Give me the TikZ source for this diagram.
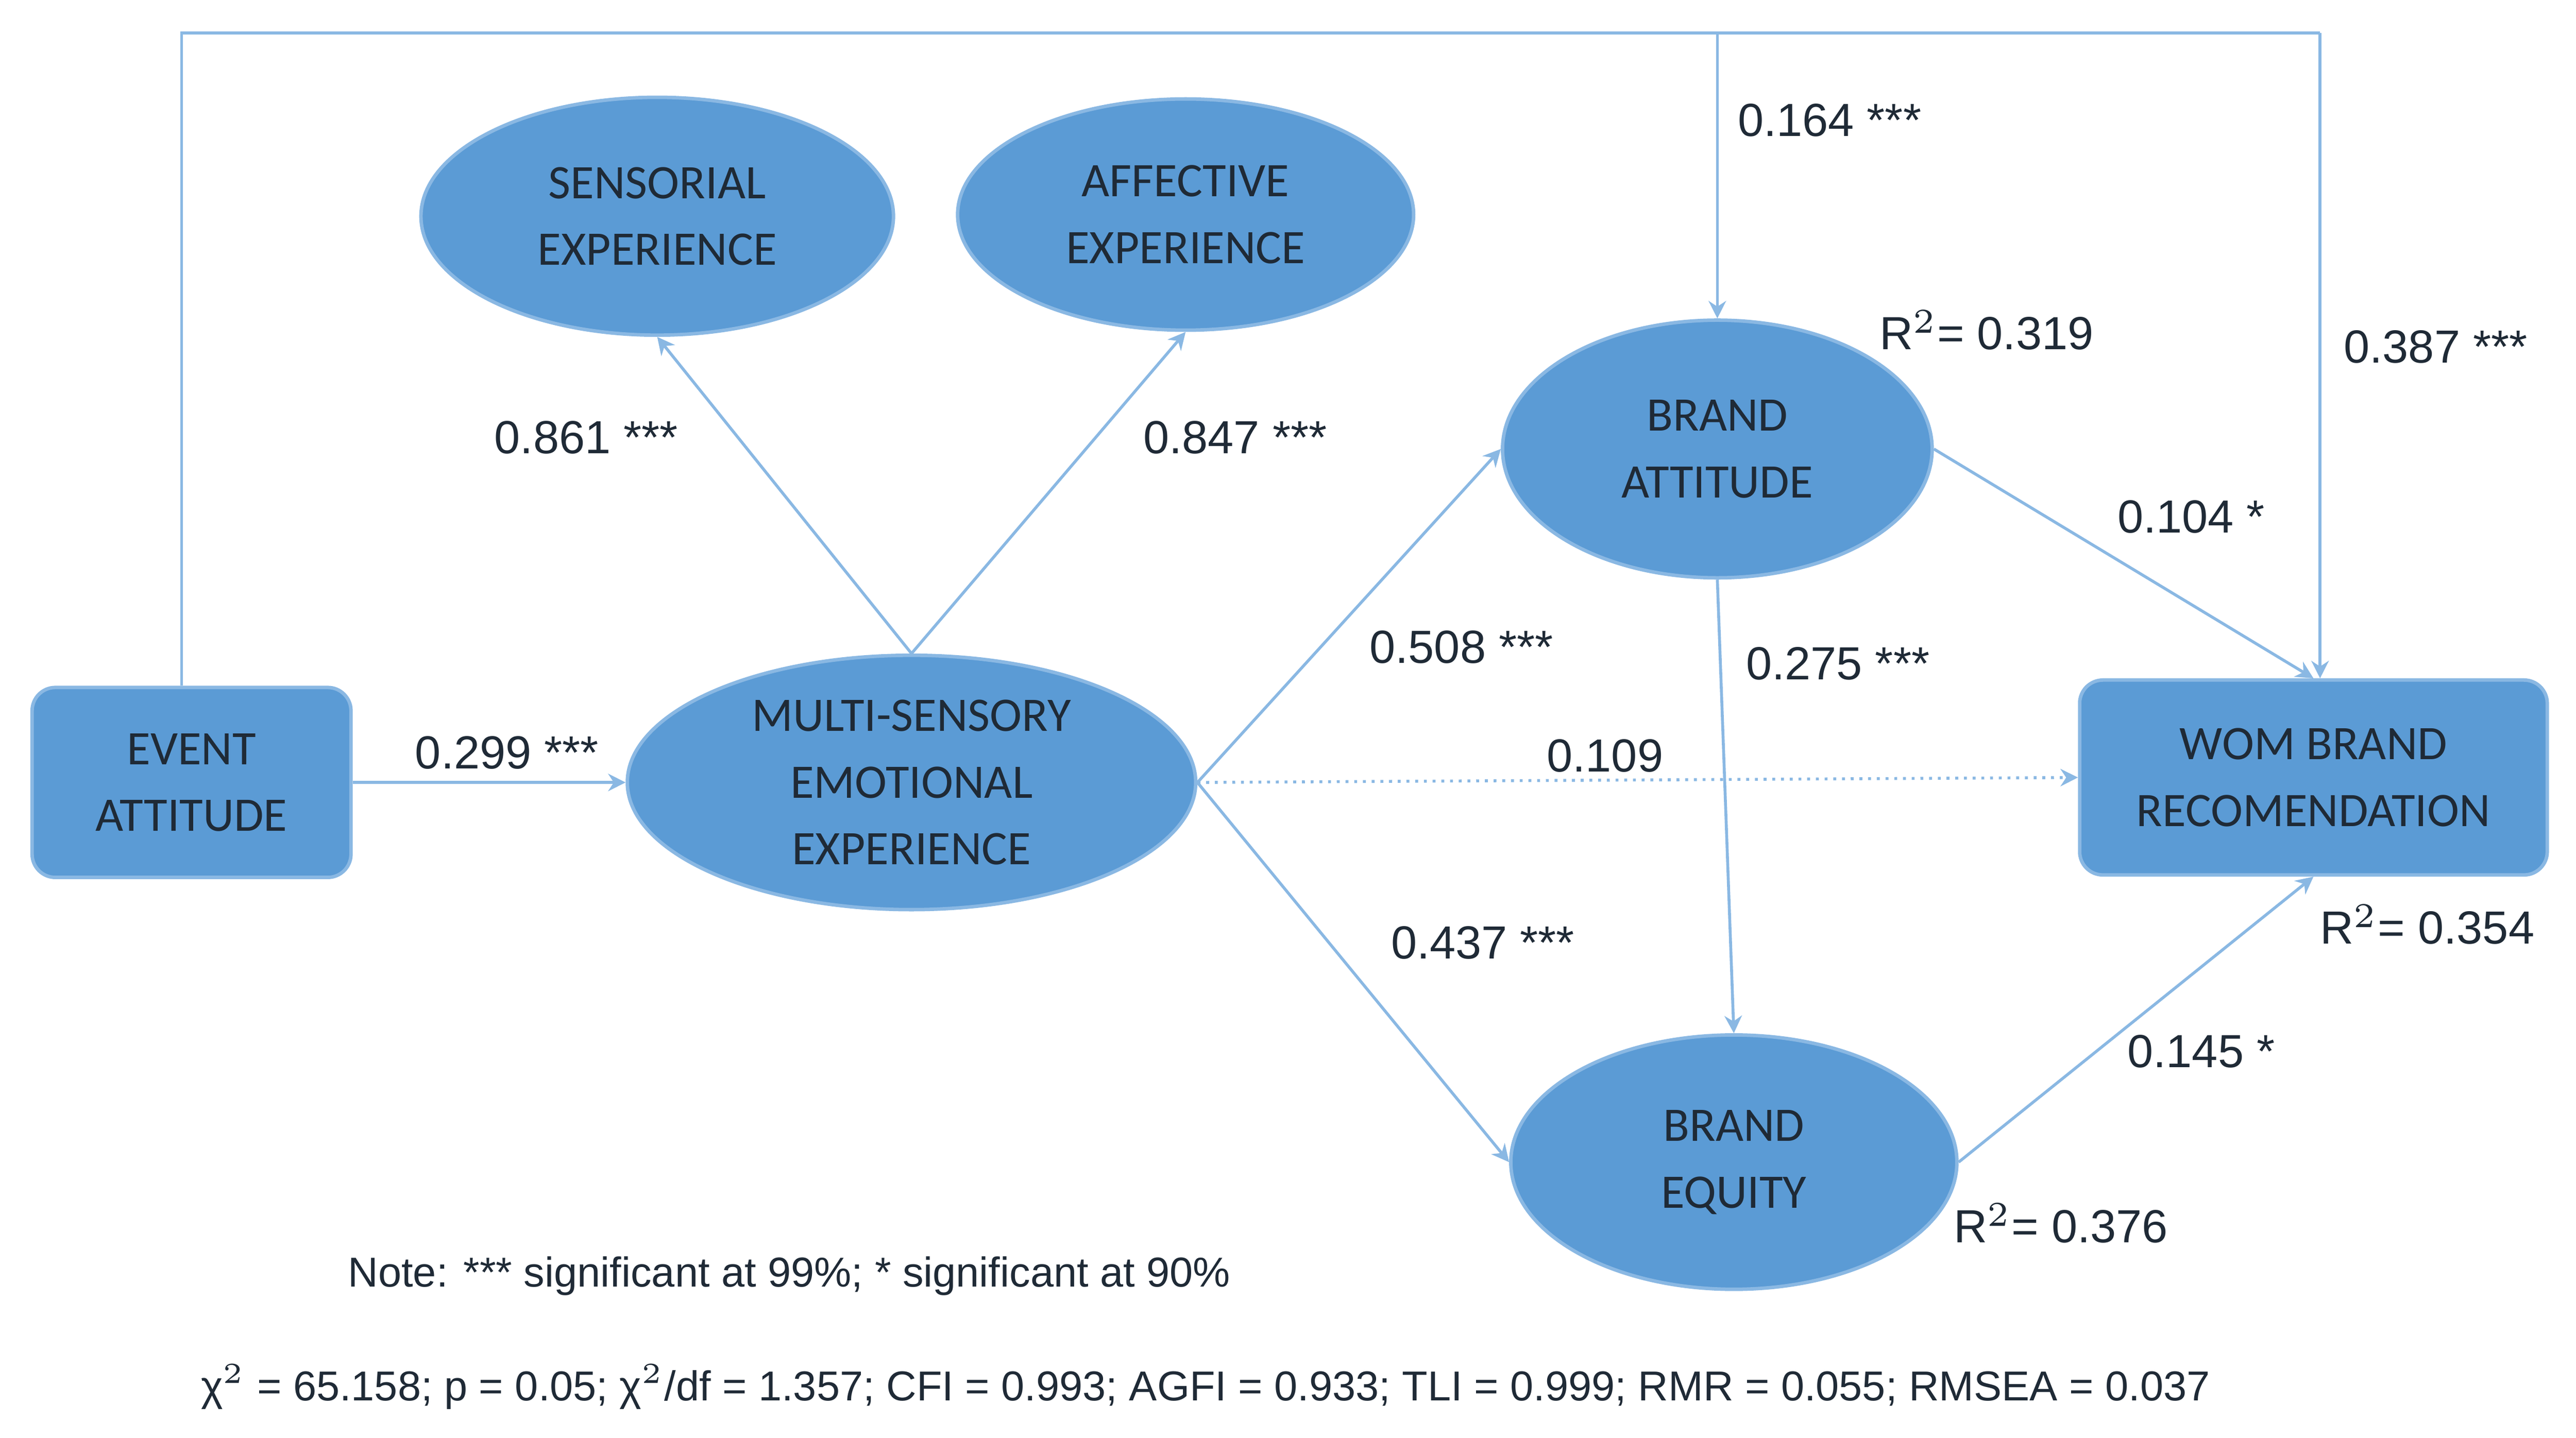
\documentclass[tikz,border=0pt]{standalone}
\usepackage{fontspec}
\setmainfont{Liberation Sans}
\newfontfamily\carlitofont{Carlito}
\usetikzlibrary{arrows.meta,shapes.geometric}
\definecolor{fillb}{HTML}{5B9BD5}
\definecolor{lineb}{HTML}{8AB8E3}
\definecolor{txt}{HTML}{1F2A36}
\begin{document}
\begin{tikzpicture}[x=0.01cm,y=-0.01cm,
  ell/.style={ellipse,fill=fillb,draw=lineb,line width=0.6pt,text=txt,font=\carlitofont\fontsize{8.3}{11.5}\selectfont,align=center,inner sep=0},
  box/.style={rectangle,rounded corners=4pt,fill=fillb,draw=lineb,line width=0.6pt,text=txt,font=\carlitofont\fontsize{8.3}{11.5}\selectfont,align=center},
  conn/.style={draw=lineb,line width=0.5pt,-{Stealth[length=3pt,width=3pt]}},
  lab/.style={font=\fontsize{8}{10}\selectfont,text=txt,inner sep=1pt}]
\useasboundingbox (0,0) rectangle (1560,871);
\node[box,minimum width=1.93cm,minimum height=1.15cm] (ea) at (116,474) {EVENT\\ATTITUDE};
\node[ell,minimum width=3.44cm,minimum height=1.54cm] (ms) at (552,474) {MULTI-SENSORY\\EMOTIONAL\\EXPERIENCE};
\node[ell,minimum width=2.86cm,minimum height=1.44cm] (se) at (398,131) {SENSORIAL\\EXPERIENCE};
\node[ell,minimum width=2.76cm,minimum height=1.40cm] (ae) at (718,130) {AFFECTIVE\\EXPERIENCE};
\node[ell,minimum width=2.60cm,minimum height=1.56cm] (ba) at (1040,272) {BRAND\\ATTITUDE};
\node[ell,minimum width=2.70cm,minimum height=1.54cm] (be) at (1050,704) {BRAND\\EQUITY};
\node[box,minimum width=2.83cm,minimum height=1.18cm] (wom) at (1401,471) {WOM BRAND\\RECOMENDATION};
\coordinate (c1) at (110,20);
\coordinate (c2) at (1405,20);
\coordinate (c3) at (1040,20);
\draw[conn] (ea.east) -- (ms.west);
\draw[conn] (ms.north) -- (se.south);
\draw[conn] (ms.north) -- (ae.south);
\draw[conn] (ms.east) -- (ba.west);
\draw[conn,densely dotted] (ms.east) -- (wom.west);
\draw[conn] (ms.east) -- (be.west);
\draw[conn] (ba.south) -- (be.north);
\draw[conn] (ba.east) -- (wom.north);
\draw[conn] (be.east) -- (wom.south);
\draw[draw=lineb,line width=0.5pt] (ea.north -| c1) -- (c1) -- (c2);
\draw[conn] (c2) -- (wom.north -| c2);
\draw[conn] (c3) -- (ba.north);
\node[lab] (l1) at (307,456) {0.299 ***};
\node[lab] (l2) at (355,265) {0.861 ***};
\node[lab] (l3) at (748,265) {0.847 ***};
\node[lab] (l4) at (885,392) {0.508 ***};
\node[lab] (l5) at (972,458) {0.109};
\node[lab] (l6) at (898,571) {0.437 ***};
\node[lab] (l7) at (1113,402) {0.275 ***};
\node[lab] (l8) at (1327,313) {0.104 *};
\node[lab] (l9) at (1333,637) {0.145 *};
\node[lab] (l10) at (1108,73) {0.164 ***};
\node[lab] (l11) at (1475,210) {0.387 ***};
\node[lab] (r1) at (1203,200) {R$^2$= 0.319};
\node[lab] (r2) at (1470,560) {R$^2$= 0.354};
\node[lab] (r3) at (1248,741) {R$^2$= 0.376};
\node[lab,font=\fontsize{7.2}{9}\selectfont] (n1) at (478,773) {Note: *** significant at 99\%; * significant at 90\%};
\node[lab,font=\fontsize{7.2}{9}\selectfont] (n2) at (730,840) {χ$^2$ = 65.158; p = 0.05; χ$^2$/df = 1.357; CFI = 0.993; AGFI = 0.933; TLI = 0.999; RMR = 0.055; RMSEA = 0.037};
\end{tikzpicture}
\end{document}
